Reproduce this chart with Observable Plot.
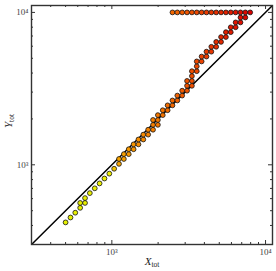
<!DOCTYPE html>
<html><head><meta charset="utf-8">
<script src="https://cdn.jsdelivr.net/npm/d3@7"></script>
<script src="https://cdn.jsdelivr.net/npm/@observablehq/plot@0.6"></script>
<style>body{margin:0;background:#fff}</style>
</head><body><div id="chart"></div>
<script>
// lower diagonal (yellow) points
const lowX = [500,538,578,622,622,669,669,719,774,832,895,963,1035];
const lowY = [419,451,485,522,562,562,605,652,701,755,813,875,942];
// staircase band
const bandX = [1113,1113,1197,1197,1288,1288,1385,1385,1490,1490,1602,1602,1723,1723,
  1853,1853,1853,1993,1993,1993,2144,2144,2306,2306,2480,2480,2667,2667,2868,2868,
  3085,3085,3085,3318,3318,3318,3318,3568,3568,3568,3838,3838,4127,4127,4439,4439,
  4774,4774,5135,5135,5522,5522,5939,5939,6388,6388,6870,6870,7389];
const bandY = [1014,1092,1092,1175,1175,1265,1265,1362,1362,1466,1466,1578,1578,1699,
  1699,1829,1969,1829,1969,2119,2119,2281,2281,2456,2456,2644,2644,2846,2846,3064,
  3064,3298,3550,3298,3550,3822,4114,4114,4429,4768,4768,5133,5133,5525,5525,5948,
  5948,6403,6403,6893,6893,7420,7420,7988,7988,8599,8599,9257,9257];
// capped top row
const topX = [2480,2667,2868,3085,3318,3568,3838,4127,4439,4774,5135,5522,5939,6388,6870,7389,7947];
const topY = topX.map(() => 10000);
// axes
const domain = [300, 11100];
const majorTicks = [1000, 10000];
const majorLabels = ["10³", "10⁴"];
const minorTicks = [400,500,600,700,800,900,2000,3000,4000,5000,6000,7000,8000,9000];
const colorDomain = [500, 1000, 1060, 3000, 8000];
const colorRange = ["#e4ef00", "#eeee00", "#f7a700", "#f05800", "#d80000"];

const pts = [];
lowX.forEach((x,i)=>pts.push({x, y: lowY[i]}));
bandX.forEach((x,i)=>pts.push({x, y: bandY[i]}));
topX.forEach((x,i)=>pts.push({x, y: topY[i]}));

const W = 276, H = 271, ML = 31, MR = 4, MT = 5, MB = 27;
const iw = W - ML - MR, ih = H - MT - MB;
const fmt = d => majorLabels[majorTicks.indexOf(d)];

const chart = Plot.plot({
  width: W, height: H, marginLeft: ML, marginRight: MR, marginTop: MT, marginBottom: MB,
  style: {fontFamily: "Liberation Serif, DejaVu Serif, serif", fontSize: "9px", background: "#fff"},
  x: {type: "log", domain, axis: null},
  y: {type: "log", domain, axis: null},
  color: {type: "log", domain: colorDomain, range: colorRange},
  marks: [
    Plot.line([[domain[0], domain[0]], [domain[1], domain[1]]], {x: d=>d[0], y: d=>d[1], stroke: "#000", strokeWidth: 1.5, clip: true}),
    Plot.dot(pts, {x: "x", y: "y", r: 2.4, fill: "x", stroke: "#111", strokeWidth: 0.8}),
    // ticks, inward, on all four sides
    Plot.tickX(majorTicks, {x: d=>d, insetTop: ih - 4, stroke: "#333"}),
    Plot.tickX(minorTicks, {x: d=>d, insetTop: ih - 2, stroke: "#333"}),
    Plot.tickX(majorTicks, {x: d=>d, insetBottom: ih - 4, stroke: "#333"}),
    Plot.tickX(minorTicks, {x: d=>d, insetBottom: ih - 2, stroke: "#333"}),
    Plot.tickY(majorTicks, {y: d=>d, insetRight: iw - 4, stroke: "#333"}),
    Plot.tickY(minorTicks, {y: d=>d, insetRight: iw - 2, stroke: "#333"}),
    Plot.tickY(majorTicks, {y: d=>d, insetLeft: iw - 4, stroke: "#333"}),
    Plot.tickY(minorTicks, {y: d=>d, insetLeft: iw - 2, stroke: "#333"}),
    Plot.axisX(majorTicks, {anchor: "bottom", tickSize: 0, tickPadding: 4, tickFormat: fmt, label: null, fill: "#444"}),
    Plot.axisY(majorTicks, {anchor: "left", tickSize: 0, tickPadding: 3, tickFormat: fmt, label: null, fill: "#444"}),
    Plot.frame({stroke: "#333", strokeWidth: 1.4})
  ]
});

const svg = d3.select(chart);
const xl = svg.append("text").attr("x", 152).attr("y", 265).attr("text-anchor", "middle")
  .attr("font-family", "Liberation Serif, DejaVu Serif, serif").attr("font-size", 11).attr("fill", "#222");
xl.append("tspan").attr("font-style", "italic").text("X");
xl.append("tspan").attr("font-size", 7.5).attr("dy", 2).text("tot");
const yl = svg.append("text").attr("transform", "translate(12,121) rotate(-90)").attr("text-anchor", "middle")
  .attr("font-family", "Liberation Serif, DejaVu Serif, serif").attr("font-size", 11).attr("fill", "#222");
yl.append("tspan").attr("font-style", "italic").text("Y");
yl.append("tspan").attr("font-size", 7.5).attr("dy", 2).text("tot");

document.getElementById("chart").appendChild(chart);
</script></body></html>
